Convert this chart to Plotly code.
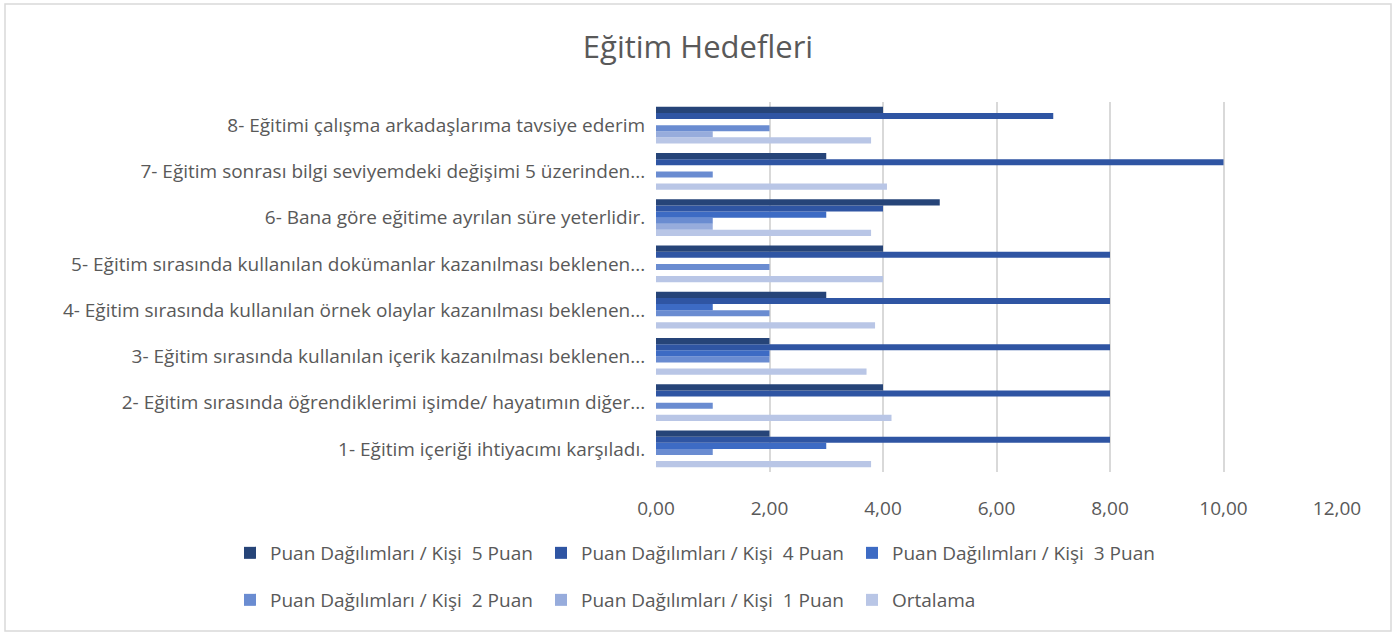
import plotly.graph_objects as go

# ---------------- data ----------------
categories = [
    "1- Eğitim içeriği ihtiyacımı karşıladı.",
    "2- Eğitim sırasında öğrendiklerimi işimde/ hayatımın diğer...",
    "3- Eğitim sırasında kullanılan içerik kazanılması beklenen...",
    "4- Eğitim sırasında kullanılan örnek olaylar kazanılması beklenen...",
    "5- Eğitim sırasında kullanılan dokümanlar kazanılması beklenen...",
    "6- Bana göre eğitime ayrılan süre yeterlidir.",
    "7- Eğitim sonrası bilgi seviyemdeki değişimi 5 üzerinden...",
    "8- Eğitimi çalışma arkadaşlarıma tavsiye ederim",
]
puan5 = [2, 4, 2, 3, 4, 5, 3, 4]
puan4 = [8, 8, 8, 8, 8, 4, 10, 7]
puan3 = [3, 0, 2, 1, 0, 3, 0, 0]
puan2 = [1, 1, 2, 2, 2, 1, 1, 2]
puan1 = [0, 0, 0, 0, 0, 1, 0, 1]
ortalama = [3.79, 4.15, 3.71, 3.86, 4.00, 3.79, 4.07, 3.79]

series_names = [
    "Puan Dağılımları / Kişi  5 Puan",
    "Puan Dağılımları / Kişi  4 Puan",
    "Puan Dağılımları / Kişi  3 Puan",
    "Puan Dağılımları / Kişi  2 Puan",
    "Puan Dağılımları / Kişi  1 Puan",
    "Ortalama",
]
x_ticks = [0, 2, 4, 6, 8, 10, 12]

# ---------------- styling ----------------
W, H = 1396, 635
L, R, T, B = 656, 1337, 102, 472  # plot area in pixels
FONT = "Open Sans"
TXT = "#595959"
colors = ["#264478", "#2F55A3", "#3D6BC4", "#6A8CD1", "#97ACDC", "#B9C6E6"]

def px_x(px):
    return (px - L) / (R - L)

def px_y(py):
    return (B - py) / (B - T)

series_vals = [puan5, puan4, puan3, puan2, puan1, ortalama]

fig = go.Figure()
# add in reverse so Ortalama sits at the bottom of each group
for i in reversed(range(6)):
    fig.add_trace(go.Bar(
        y=categories, x=series_vals[i], orientation="h",
        name=series_names[i], marker=dict(color=colors[i], line=dict(width=0)),
        legend="legend" if i < 3 else "legend2",
        hoverinfo="x+name",
    ))

legend_common = dict(
    orientation="h", traceorder="reversed", xanchor="left", yanchor="middle",
    font=dict(family=FONT, size=19, color=TXT), entrywidth=266,
    bgcolor="rgba(0,0,0,0)", itemwidth=30,
)

fig.update_layout(
    width=W, height=H,
    separators=",.",
    barmode="group", bargap=0.21, bargroupgap=0,
    paper_bgcolor="white", plot_bgcolor="white",
    margin=dict(l=L, r=W - R, t=T, b=H - B, autoexpand=False),
    title=dict(text="Eğitim Hedefleri", x=0.5, xref="container", xanchor="center",
               y=1 - 47 / H, yref="container", yanchor="middle",
               font=dict(family=FONT, size=31, color=TXT)),
    xaxis=dict(range=[0, 12], tickvals=x_ticks, tickformat=".2f",
               showgrid=True, gridcolor="#D9D9D9", gridwidth=1.5, zeroline=False,
               showline=False, ticks="outside", ticklen=19, tickcolor="rgba(0,0,0,0)",
               tickfont=dict(family=FONT, size=19, color=TXT), fixedrange=True),
    yaxis=dict(type="category", categoryorder="array", categoryarray=categories,
               showgrid=False, zeroline=False, showline=False,
               ticks="outside", ticklen=6, tickcolor="rgba(0,0,0,0)",
               tickfont=dict(family=FONT, size=19, color=TXT), fixedrange=True),
    legend=dict(x=px_x(230), y=px_y(553), **legend_common),
    legend2=dict(x=px_x(230), y=px_y(600), **legend_common),
    showlegend=True,
    shapes=[dict(type="rect", xref="paper", yref="paper",
                 x0=px_x(5), x1=px_x(1391), y0=px_y(631), y1=px_y(4),
                 line=dict(color="#D9D9D9", width=1.5), fillcolor="rgba(0,0,0,0)",
                 layer="below")],
)

fig.write_html("out.html", config={"displayModeBar": False},
               post_script="document.body.style.margin='0';document.body.style.overflow='hidden';")
